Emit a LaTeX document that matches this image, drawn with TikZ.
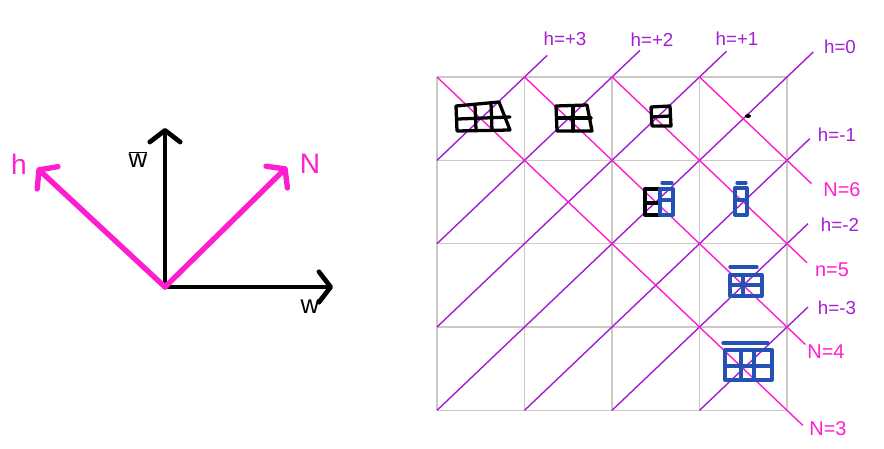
\documentclass[tikz,border=0pt]{standalone}
\usepackage{fontspec}
\setmainfont{Liberation Sans}
\usetikzlibrary{arrows.meta}
\definecolor{zise}{HTML}{A41ED2}
\definecolor{fenhong}{HTML}{FF1ECF}
\definecolor{lanse}{HTML}{2452B4}
\definecolor{huise}{HTML}{CCC8C4}
\begin{document}
\begin{tikzpicture}[x=0.03cm, y=-0.03cm,
    zhou/.style={line width=4pt, line cap=round, -{Straight Barb[length=10pt,width=26pt,round]}},
    hlinie/.style={zise, line width=1.2pt},
    nlinie/.style={fenhong, line width=1.2pt},
    gewang/.style={huise, line width=1.2pt},
    kuang/.style={line width=2.8pt, line join=round, line cap=round},
    hlab/.style={text=zise, font=\fontsize{16}{18}\selectfont},
    nlab/.style={text=fenhong, font=\fontsize{17}{19}\selectfont}]
    \useasboundingbox (0,0) rectangle (884,449);
    % 左边的坐标轴
    \coordinate (O) at (165,287);
    \coordinate (wbarEnd) at (165,128);
    \coordinate (wEnd) at (333,287);
    \coordinate (hEnd) at (37,168);
    \coordinate (NEnd) at (287,167);
    \draw[zhou] (O) -- (wbarEnd);
    \draw[zhou] (O) -- (wEnd);
    \draw[zhou, fenhong, line width=4.6pt] (O) -- (hEnd);
    \draw[zhou, fenhong, line width=4.6pt] (O) -- (NEnd);
    \node[font=\fontsize{22}{24}\selectfont] (wbarLab) at (138,160) {$\overline{\mbox{w}}$};
    \node[font=\fontsize{22}{24}\selectfont] (wLab) at (310,307) {w};
    \node[text=fenhong, font=\fontsize{24}{26}\selectfont] (hLab) at (19,164) {h};
    \node[text=fenhong, font=\fontsize{24}{26}\selectfont] (NLab) at (310,164) {N};
    % 网格和对角线
    \begin{scope}[shift={(437,77)}, x=2.625cm, y=-2.5cm]
        \foreach \i in {0,...,4} {
            \draw[gewang] (\i,0) -- (\i,4);
            \draw[gewang] (0,\i) -- (4,\i);
        }
        \foreach \c/\e in {1/0.26, 2/0.32, 3/0.31, 4/0.3}
            \draw[hlinie] (0,\c) -- (\c,0) -- ++(\e,-\e);
        \foreach \c/\e in {5/0.26, 6/0.24, 7/0.24}
            \draw[hlinie] (\c-4,4) -- (4,\c-4) -- ++(\e,-\e);
        \foreach \d/\e in {0/0.18, 1/0.21, 2/0.23, 3/0.28}
            \draw[nlinie] (\d,0) -- (4,4-\d) -- ++(\e,\e);
    \end{scope}
    % 标签
    \node[hlab] (hp3) at (565,39) {h=+3};
    \node[hlab] (hp2) at (652,40) {h=+2};
    \node[hlab] (hp1) at (737,39) {h=+1};
    \node[hlab] (h0) at (840,47) {h=0};
    \node[hlab] (hm1) at (837,135) {h=-1};
    \node[hlab] (hm2) at (840,225) {h=-2};
    \node[hlab] (hm3) at (837,308) {h=-3};
    \node[nlab] (N6) at (842,190) {N=6};
    \node[nlab] (N5) at (832,270) {n=5};
    \node[nlab] (N4) at (826,352) {N=4};
    \node[nlab] (N3) at (828,429) {N=3};
    % 格子里的图
    \draw[kuang] (456,106) -- (499,102) -- (510,130) -- (457,131) -- cycle;
    \draw[kuang] (458,119) -- (510,117);
    \draw[kuang] (475,105) -- (476,130);
    \draw[kuang] (491,103) -- (492,130);
    \draw[kuang] (556,106) -- (587,105) -- (592,131) -- (557,131) -- cycle;
    \draw[kuang] (557,118) -- (591,118);
    \draw[kuang] (573,106) -- (573,131);
    \draw[kuang] (651,107) -- (670,106) -- (671,126) -- (652,126) -- cycle;
    \draw[kuang] (652,117) -- (670,116);
    \fill (748,116) ellipse (3 and 2);
    \draw[kuang] (645,189) rectangle (660,215);
    \draw[kuang] (645,203) -- (660,203);
    \draw[kuang, lanse] (660,189) rectangle (673,215);
    \draw[kuang, lanse] (660,200) -- (673,200);
    \draw[kuang, lanse] (662,183) -- (672,183);
    \draw[kuang, lanse] (735,188) rectangle (747,215);
    \draw[kuang, lanse] (735,200) -- (747,200);
    \draw[kuang, lanse] (737,183) -- (746,183);
    \draw[kuang, lanse] (730,275) rectangle (762,296);
    \draw[kuang, lanse] (743,275) -- (743,296);
    \draw[kuang, lanse] (730,285) -- (762,285);
    \draw[kuang, lanse] (730,267) -- (757,267);
    \draw[kuang, lanse] (725,350) rectangle (772,380);
    \draw[kuang, lanse] (725,366) -- (772,366);
    \draw[kuang, lanse] (741,350) -- (741,380);
    \draw[kuang, lanse] (754,350) -- (754,380);
    \draw[kuang, lanse] (723,343) -- (768,343);
\end{tikzpicture}
\end{document}
